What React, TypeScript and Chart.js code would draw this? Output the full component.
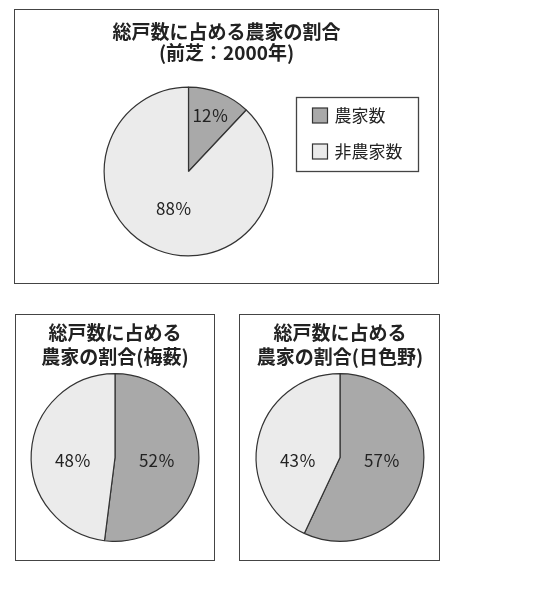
import React, { useEffect, useRef } from "react";
import { Chart, PieController, ArcElement, Title } from "chart.js";

Chart.register(PieController, ArcElement, Title);

const FONT = "'Noto Sans CJK JP', 'Noto Sans', sans-serif";

// data
const categories = ["農家数", "非農家数"];
const maeshibaShare = [12, 88];
const umeyabuShare = [52, 48];
const hiironoShare = [57, 43];

const maeshibaTitle = ["総戸数に占める農家の割合", "(前芝：2000年)"];
const umeyabuTitle = ["総戸数に占める", "農家の割合(梅薮)"];
const hiironoTitle = ["総戸数に占める", "農家の割合(日色野)"];

const sliceColors = ["#a9a9a9", "#ebebeb"];

// percent text inside each slice
const pctLabels = {
  id: "pctLabels",
  afterDatasetsDraw(chart: any, _args: any, opts: any) {
    const ctx = chart.ctx;
    const meta = chart.getDatasetMeta(0);
    const values = chart.data.datasets[0].data as number[];
    ctx.save();
    ctx.font = `${opts.size}px ${FONT}`;
    ctx.fillStyle = opts.color;
    ctx.textAlign = "center";
    ctx.textBaseline = "middle";
    meta.data.forEach((el: any, i: number) => {
      const { x, y, startAngle, endAngle, outerRadius } = el.getProps(
        ["x", "y", "startAngle", "endAngle", "outerRadius"],
        true
      );
      const mid = (startAngle + endAngle) / 2;
      const f = opts.radius[i];
      let px = x + Math.cos(mid) * outerRadius * f;
      let py = y + Math.sin(mid) * outerRadius * f;
      if (opts.level != null) {
        px = x + Math.sign(Math.cos(mid)) * outerRadius * f;
        py = y + opts.level;
      }
      ctx.fillText(values[i] + "％", px, py);
    });
    ctx.restore();
  },
};

// keep room on the right for the framed legend (title stays centred on the whole box)
const areaShift = {
  id: "areaShift",
  afterLayout(chart: any, _args: any, opts: any) {
    if (!opts || !opts.right) return;
    const a = chart.chartArea;
    a.right -= opts.right;
    a.width = a.right - a.left;
  },
};

// framed legend like the printed one
const boxLegend = {
  id: "boxLegend",
  afterDraw(chart: any, _args: any, opts: any) {
    if (!opts || !opts.box) return;
    const ctx = chart.ctx;
    const ds = chart.data.datasets[0];
    const { x, y, w, h } = opts.box;
    ctx.save();
    ctx.strokeStyle = "#444";
    ctx.lineWidth = 1.3;
    ctx.strokeRect(x, y, w, h);
    ctx.font = `${opts.size}px ${FONT}`;
    ctx.textBaseline = "middle";
    ctx.textAlign = "left";
    chart.data.labels.forEach((lab: string, i: number) => {
      const cy = opts.rowY[i];
      ctx.fillStyle = ds.backgroundColor[i];
      ctx.fillRect(opts.swatchX, cy - 7.5, 15, 15);
      ctx.strokeStyle = "#333";
      ctx.lineWidth = 1.2;
      ctx.strokeRect(opts.swatchX, cy - 7.5, 15, 15);
      ctx.fillStyle = "#222";
      ctx.fillText(lab, opts.textX, cy);
    });
    ctx.restore();
  },
};

interface PieProps {
  values: number[];
  title: string[];
  width: number;
  height: number;
  padding: { left: number; right: number; top: number; bottom: number };
  titlePad: { top: number; bottom: number };
  titleLine: number;
  labelRadius: number[];
  labelLevel?: number;
  reserveRight?: number;
  legend?: any;
}

const PieBox: React.FC<PieProps> = ({
  values,
  title,
  width,
  height,
  padding,
  titlePad,
  titleLine,
  labelRadius,
  labelLevel,
  reserveRight,
  legend,
}) => {
  const ref = useRef<HTMLCanvasElement>(null);

  useEffect(() => {
    if (!ref.current) return;
    const chart = new Chart(ref.current, {
      type: "pie",
      data: {
        labels: categories,
        datasets: [
          {
            data: values,
            backgroundColor: sliceColors,
            borderColor: "#333",
            borderWidth: 1.2,
          },
        ],
      },
      options: {
        responsive: false,
        animation: false,
        layout: { padding },
        plugins: {
          legend: { display: false },
          tooltip: { enabled: false },
          title: {
            display: true,
            text: title,
            color: "#222",
            font: { family: FONT, size: 19, weight: "bold", lineHeight: titleLine },
            padding: titlePad,
          },
          areaShift: { right: reserveRight || 0 },
          pctLabels: { size: 17, color: "#222", radius: labelRadius, level: labelLevel },
          boxLegend: legend || {},
        } as any,
      },
      plugins: [areaShift, pctLabels, boxLegend],
    });
    return () => chart.destroy();
  }, [values, title]);

  return <canvas ref={ref} width={width} height={height} style={{ width, height, display: "block" }} />;
};

const frame = (left: number, top: number, w: number, h: number): React.CSSProperties => ({
  position: "absolute",
  left,
  top,
  width: w,
  height: h,
  border: "1.5px solid #444",
});

export default function App() {
  return (
    <div style={{ position: "absolute", left: 0, top: 0, width: 540, height: 590, background: "#fff" }}>
      <div style={frame(14, 9, 423, 273)}>
        <PieBox
          values={maeshibaShare}
          title={maeshibaTitle}
          width={423}
          height={273}
          padding={{ left: 0, right: 0, top: 0, bottom: 26.5 }}
          titlePad={{ top: 11, bottom: 23.7 }}
          titleLine={1.1}
          labelRadius={[0.71, 0.47]}
          reserveRight={76}
          legend={{
            box: { x: 281.5, y: 87.5, w: 122, h: 74 },
            swatchX: 297.5,
            textX: 319.5,
            rowY: [105.5, 141.5],
            size: 17,
          }}
        />
      </div>
      <div style={frame(15, 314, 198, 245)}>
        <PieBox
          values={umeyabuShare}
          title={umeyabuTitle}
          width={198}
          height={245}
          padding={{ left: 14.5, right: 14.5, top: 0, bottom: 18 }}
          titlePad={{ top: 5.5, bottom: 4.5 }}
          titleLine={1.263}
          labelRadius={[0.5, 0.5]}
          labelLevel={3}
        />
      </div>
      <div style={frame(239, 314, 199, 245)}>
        <PieBox
          values={hiironoShare}
          title={hiironoTitle}
          width={199}
          height={245}
          padding={{ left: 15.5, right: 14.5, top: 0, bottom: 18 }}
          titlePad={{ top: 5.5, bottom: 4.5 }}
          titleLine={1.263}
          labelRadius={[0.5, 0.5]}
          labelLevel={3}
        />
      </div>
    </div>
  );
}
